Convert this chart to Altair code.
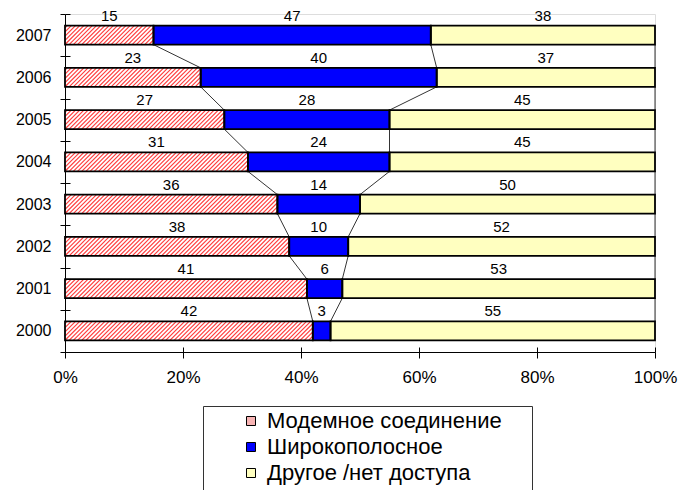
import altair as alt
import pandas as pd

# ---- data ----
years = [2000, 2001, 2002, 2003, 2004, 2005, 2006, 2007]
modem = [42, 41, 38, 36, 31, 27, 23, 15]
broadband = [3, 6, 10, 14, 24, 28, 40, 47]
other = [55, 53, 52, 50, 45, 45, 37, 38]
series = ["Модемное соединение", "Широкополосное", "Другое /нет доступа"]
x_ticks = [0, 20, 40, 60, 80, 100]

FONT = "Liberation Sans"
W, H = 590, 338
HALF = 0.225  # half bar thickness, in year units (style)

# ---- segments ----
rows = []
for i, yr in enumerate(years):
    start = 0
    for s, vals in zip(series, [modem, broadband, other]):
        v = vals[i]
        rows.append(dict(year=yr, series=s, value=v, start=start, end=start + v,
                         mid=start + v / 2, ylo=yr - HALF, yhi=yr + HALF))
        start += v
seg = pd.DataFrame(rows)
seg_modem = seg[seg.series == series[0]]

# ---- series lines between consecutive bars ----
def cums(i):
    return [modem[i], modem[i] + broadband[i], modem[i] + broadband[i] + other[i]]

lines = []
for i in range(1, len(years)):
    for a, b in zip(cums(i), cums(i - 1)):
        lines.append(dict(x=a, y=years[i] - HALF, x2=b, y2=years[i - 1] + HALF))
lines = pd.DataFrame(lines)

# ---- hatch stripes inside the modem segments ----
px_x = W / 100.0
px_y = H / len(years)
D = (2 * HALF * px_y) / px_x     # horizontal run of a 45 degree stripe, in %
P = 4.2 / px_x                   # stripe period, in %
stripes = []
for i, yr in enumerate(years):
    v = modem[i]
    xb = -D + P / 2
    while xb < v:
        s0 = max(0.0, -xb / D)
        s1 = min(1.0, (v - xb) / D)
        if s1 > s0:
            stripes.append(dict(x=xb + s0 * D, x2=xb + s1 * D,
                                y=yr - HALF + s0 * 2 * HALF, y2=yr - HALF + s1 * 2 * HALF))
        xb += P
stripes = pd.DataFrame(stripes)

halves = [years[0] - 0.5 + k for k in range(len(years) + 1)]

xs = alt.Scale(domain=[0, 100], nice=False, zero=False)
ys = alt.Scale(domain=[years[0] - 0.5, years[-1] + 0.5], nice=False, zero=False)

x_axis = alt.Axis(values=x_ticks, labelExpr="datum.value + '%'", tickSize=6, labelPadding=11,
                  labelFlush=False, labelOverlap=False, grid=False, title=None,
                  labelFontSize=17, labelFont=FONT, labelColor="black",
                  domainColor="black", tickColor="black")
y_axis = alt.Axis(values=halves,
                  labelExpr="datum.value > %d ? '' : toString(datum.value + 0.5)" % years[-1],
                  labelOffset=-px_y / 2, tickSize=5, labelPadding=9,
                  labelFlush=False, labelOverlap=False, grid=False, title=None,
                  labelFontSize=16, labelFont=FONT, labelColor="black",
                  domainColor="black", tickColor="black")
x_in = alt.Axis(orient="top", offset=-H, values=x_ticks, tickSize=5, labels=False, domain=False,
                grid=False, title=None, tickColor="black")
y_in = alt.Axis(orient="right", offset=-W, values=halves, tickSize=5, labels=False, domain=False,
                grid=False, title=None, tickColor="black")

# a tiny invisible spacer title at the bottom widens the legend frame like the reference
legend = alt.Legend(orient="none", legendX=138, legendY=392,
                    title="_" * 144, titleOrient="bottom", titleFontSize=4, titleOpacity=0,
                    titleLimit=1000, titlePadding=1, titleAlign="left",
                    strokeColor="#333333", fillColor="white", padding=4,
                    symbolOffset=33, symbolType="square", symbolSize=81,
                    symbolStrokeColor="black", symbolStrokeWidth=1, symbolOpacity=1,
                    labelFontSize=22, labelFont=FONT, labelColor="black",
                    labelLimit=500, rowPadding=4, labelOffset=5)

bars = alt.Chart(seg).mark_rect().encode(
    x=alt.X("start:Q", scale=xs, axis=x_axis),
    x2="end:Q",
    y=alt.Y("ylo:Q", scale=ys, axis=y_axis),
    y2="yhi:Q",
    color=alt.Color("series:N", scale=alt.Scale(domain=series,
                    range=["#F8B4B4", "#0000FF", "#FFFFC0"]), legend=legend),
)

white = alt.Chart(seg_modem).mark_rect(fill="white").encode(
    x=alt.X("start:Q", scale=xs, axis=None), x2="end:Q",
    y=alt.Y("ylo:Q", scale=ys, axis=None), y2="yhi:Q",
)

hatch = alt.Chart(stripes).mark_rule(color="#ff3c3c", strokeWidth=1.2).encode(
    x=alt.X("x:Q", scale=xs, axis=None), x2="x2:Q",
    y=alt.Y("y:Q", scale=ys, axis=None), y2="y2:Q",
)

outline = alt.Chart(seg).mark_rect(fillOpacity=0, stroke="black", strokeWidth=1.8).encode(
    x=alt.X("start:Q", scale=xs, axis=None), x2="end:Q",
    y=alt.Y("ylo:Q", scale=ys, axis=None), y2="yhi:Q",
)

slines = alt.Chart(lines).mark_rule(color="black", strokeWidth=0.8).encode(
    x=alt.X("x:Q", scale=xs, axis=None), x2="x2:Q",
    y=alt.Y("y:Q", scale=ys, axis=None), y2="y2:Q",
)

labels = alt.Chart(seg).mark_text(baseline="bottom", dy=-2, fontSize=15, font=FONT,
                                  color="black").encode(
    x=alt.X("mid:Q", scale=xs, axis=x_in),
    y=alt.Y("yhi:Q", scale=ys, axis=y_in),
    text="value:Q",
)

chart = alt.layer(bars, white, hatch, slines, outline, labels).resolve_axis(
    x="independent", y="independent"
).properties(
    width=W, height=H,
    autosize=alt.AutoSizeParams(type="none"),
    padding={"left": 65, "top": 14, "right": 27, "bottom": 138},
).configure_view(stroke=None).configure(font=FONT)

chart.save("out.html", embed_options={"renderer": "svg", "actions": False})
